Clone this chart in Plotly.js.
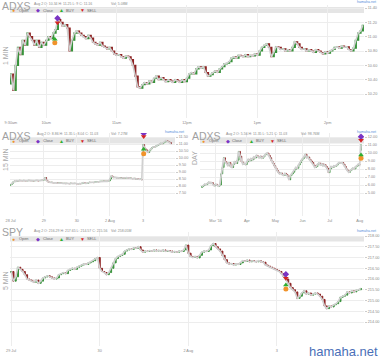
<!DOCTYPE html>
<html><head><meta charset="utf-8">
<script src="https://cdn.plot.ly/plotly-3.0.1.min.js"></script>
<style>html,body{margin:0;padding:0;background:#fff;overflow:hidden}#chart{width:380px;height:358px}</style>
</head><body><div id="chart"></div>
<script>
// ---------- DATA ----------
// 1 MIN panel (ADXS, Aug 2), sampled every 2 minutes from 9:30am
const min1Open0 = 10.34;
const min1Close = [10.48,10.25,10.60,10.85,10.75,10.95,10.88,11.05,11.00,10.95,
 10.88,10.95,10.85,10.92,10.88,10.95,11.00,10.97,11.05,11.10,
 11.24,11.20,11.15,11.17,11.12,10.80,10.95,11.05,11.08,11.05,
 11.02,11.00,10.97,11.02,10.98,10.92,10.90,10.88,10.92,10.87,
 10.85,10.83,10.85,10.80,10.76,10.74,10.75,10.72,10.70,10.73,
 10.72,10.68,10.60,10.45,10.30,10.28,10.33,10.36,10.34,10.38,
 10.36,10.42,10.45,10.40,10.43,10.40,10.37,10.40,10.38,10.36,
 10.40,10.38,10.36,10.40,10.37,10.42,10.48,10.50,10.48,10.55,
 10.58,10.56,10.58,10.50,10.45,10.47,10.50,10.52,10.50,10.55,
 10.58,10.62,10.63,10.65,10.70,10.72,10.70,10.74,10.73,10.72,
 10.75,10.72,10.74,10.73,10.76,10.74,10.80,10.85,10.88,10.90,
 10.85,10.72,10.78,10.86,10.85,10.82,10.83,10.80,10.82,10.80,
 10.85,10.93,10.90,10.85,10.82,10.83,10.80,10.82,10.80,10.78,
 10.82,10.80,10.78,10.76,10.79,10.77,10.80,10.82,10.85,10.86,
 10.84,10.87,10.85,10.86,10.82,10.80,10.84,10.95,11.05,11.08,
 11.16];
const min1StepMinutes = 2;
const min1TickVals = [0,30,90,150,210,270];
const min1TickText = ['9:30am','10am','11am','12pm','1pm','2pm'];
const min1YTicks = [10.20,10.40,10.60,10.80,11.00,11.20,11.40];
const min1Signals = {openX:[37.4], openY:[10.916], buyX:[37.4], buyY:[10.963], closeX:[39.7], closeY:[11.256], sellX:[39.7], sellY:[11.195]};

// 15 MIN panel (ADXS, 5 days)
const min15Open0 = 8.05;
const min15Close = [8.10,8.20,8.30,8.35,8.32,8.38,8.36,8.40,8.38,8.37,8.40,8.38,8.36,8.38,8.40,8.39,8.37,8.38,8.36,8.38,8.40,8.38,8.37,8.39,8.41,8.40,
 8.45,8.60,8.40,8.30,8.28,8.25,8.27,8.24,8.22,8.25,8.23,8.20,8.22,8.19,8.21,8.18,8.20,8.17,8.19,8.18,8.16,8.20,8.18,8.17,8.19,8.18,
 8.16,8.15,8.18,8.16,8.20,8.25,8.22,8.18,8.20,8.24,8.27,8.25,8.26,8.24,8.28,8.30,8.32,8.30,8.33,8.35,8.32,8.36,8.34,8.35,8.33,8.36,
 8.50,8.72,8.65,8.60,8.62,8.58,8.60,8.57,8.59,8.55,8.58,8.56,8.57,8.60,8.58,8.55,8.57,8.54,8.52,8.55,8.50,8.52,8.49,8.47,8.50,8.45,
 10.95,10.70,10.60,10.45,10.40,10.55,10.65,10.75,10.80,10.78,10.85,10.90,10.95,11.00,11.05,11.02,11.10,11.15,11.25,11.20,11.15,11.10,11.03];
const min15GapIdx = [104];
const min15GapOpen = [10.30];
const min15TickVals = [0,26,52,78,104];
const min15TickText = ['28 Jul','29','30','2 Aug','3'];
const min15YTicks = [7.5,8.0,8.5,9.0,9.5,10.0,10.5,11.0,11.5];
const min15Signals = {openX:[104.5], openY:[10.31], buyX:[104.5], buyY:[10.62], closeX:[104.5], closeY:[11.76], sellX:[104.5], sellY:[11.53]};

// DAY panel (ADXS, Feb - Aug 2)
const dayOpen0 = 5.70;
const dayClose = [5.80,5.95,6.10,6.05,6.25,6.35,6.20,6.30,6.05,5.90,6.10,5.95,5.85,6.00,7.40,8.20,9.40,8.90,8.70,8.40,
 8.80,8.30,8.20,8.60,8.95,8.70,9.10,10.20,9.60,8.90,8.60,8.70,8.55,8.90,9.20,9.00,9.30,9.15,9.50,9.40,
 9.70,9.55,9.40,9.60,9.35,9.50,9.75,9.90,10.00,9.70,9.40,9.00,8.70,8.40,8.10,7.80,7.60,7.40,7.50,7.30,
 7.20,7.45,7.30,7.10,6.65,7.20,7.40,7.60,7.90,8.20,8.10,8.50,8.80,9.10,9.30,9.50,9.85,9.40,9.50,9.20,
 9.00,8.80,8.50,8.20,8.30,8.60,8.75,8.50,8.65,8.40,8.55,8.30,8.10,7.55,8.00,8.30,8.20,8.40,8.35,8.50,
 8.70,8.80,8.75,8.80,8.60,8.30,8.00,7.80,7.60,7.80,8.00,8.10,8.00,8.30,8.40,8.60,8.50,11.03];
const dayGapIdx = [117];
const dayGapOpen = [10.34];
const dayTickVals = [10,33,54,74,94,116];
const dayTickText = ["Mar '16",'Apr','May','Jun','Jul','Aug'];
const dayYTicks = [5,6,7,8,9,10,11,12];
const daySignals = {openX:[117], openY:[9.33], buyX:[117], buyY:[9.75], closeX:[117], closeY:[12.04], sellX:[117], sellY:[11.6]};

// 5 MIN panel (SPY, 4 days)
const min5Open0 = 216.30;
const min5Close = [216.35,215.90,216.10,216.55,216.45,216.35,216.20,216.00,215.95,215.90,215.85,215.95,215.80,215.90,216.05,216.10,216.15,216.10,216.05,216.00,
 216.05,216.20,216.25,216.30,216.25,216.40,216.45,216.50,216.45,216.55,216.60,216.65,216.70,216.68,216.75,216.80,216.85,216.95,217.00,
 216.50,216.35,216.30,216.20,216.30,216.50,216.75,216.95,217.05,217.10,217.15,217.30,217.35,217.40,217.38,217.45,217.42,217.50,217.35,217.25,
 217.30,217.28,217.32,217.30,217.35,217.30,217.33,217.30,217.35,217.28,217.32,217.30,217.25,217.28,217.25,217.30,217.28,217.35,217.58,
 217.20,217.05,217.00,217.05,216.98,217.10,217.25,217.30,217.28,217.35,217.55,217.65,217.50,217.40,217.30,217.10,216.90,216.75,216.70,216.72,
 216.65,216.70,216.68,216.75,216.85,216.82,216.88,216.80,216.85,216.82,216.80,216.85,216.80,216.78,216.65,216.60,216.55,216.50,216.45,
 216.40,216.35,216.25,216.10,216.00,215.80,215.60,215.50,215.40,215.10,215.20,215.35,215.45,215.30,215.35,215.25,215.30,215.35,215.30,215.20,
 215.05,214.75,214.62,214.75,214.70,214.80,214.85,214.95,215.15,215.20,215.25,215.40,215.35,215.45,215.40,215.48,215.50,215.56];
const min5TickVals = [0,39,78,117];
const min5TickText = ['29 Jul','30','2 Aug','3'];
const min5YTicks = [214.0,214.5,215.0,215.5,216.0,216.5,217.0,217.5,218.0];
const min5Signals = {openX:[121], openY:[215.53], buyX:[121], buyY:[215.72], closeX:[121], closeY:[216.22], sellX:[121], sellY:[216.03]};

// ---------- BUILD ----------
const W = 380, H = 358;
const GREEN = '#37923a', RED = '#8e2424', HALO = '#d0d0d0';

function buildOpens(first, closes, gapIdx, gapOpen) {
  const o = closes.map((c, i) => i === 0 ? first : closes[i - 1]);
  (gapIdx || []).forEach((g, k) => { o[g] = gapOpen[k]; });
  return o;
}

function panelTraces(xs, opens, closes, sig, xa, ya, lw, halo) {
  const hi = closes.map((c, i) => Math.max(c, opens[i]));
  const lo = closes.map((c, i) => Math.min(c, opens[i]));
  const tr = [];
  tr.push({type:'scatter', mode:'lines', x:xs, y:closes, xaxis:xa, yaxis:ya,
    line:{color:HALO, width:halo}, hoverinfo:'skip', showlegend:false});
  tr.push({type:'candlestick', x:xs, open:opens, high:hi, low:lo, close:closes, xaxis:xa, yaxis:ya,
    increasing:{line:{color:GREEN, width:lw}, fillcolor:GREEN},
    decreasing:{line:{color:RED, width:lw}, fillcolor:RED},
    whiskerwidth:0, hoverinfo:'skip', showlegend:false});
  const mk = (x, y, sym, col) => ({type:'scatter', mode:'markers', x:x, y:y, xaxis:xa, yaxis:ya,
    marker:{symbol:sym, size:5, color:col, line:{width:0}}, hoverinfo:'skip', showlegend:false});
  tr.push(mk(sig.openX, sig.openY, 'circle', '#f0932b'));
  tr.push(mk(sig.buyX, sig.buyY, 'triangle-up', '#2fae2f'));
  tr.push(mk(sig.closeX, sig.closeY, 'diamond', '#7a34c4'));
  tr.push(mk(sig.sellX, sig.sellY, 'triangle-down', '#d42424'));
  return tr;
}

const min1X = min1Close.map((c, i) => i * min1StepMinutes);
const min15X = min15Close.map((c, i) => i);
const dayX = dayClose.map((c, i) => i);
const min5X = min5Close.map((c, i) => i);

let traces = [];
traces = traces.concat(panelTraces(min1X, buildOpens(min1Open0, min1Close), min1Close, min1Signals, 'x', 'y', 1.1, 1.6));
traces = traces.concat(panelTraces(min15X, buildOpens(min15Open0, min15Close, min15GapIdx, min15GapOpen), min15Close, min15Signals, 'x2', 'y2', 0.8, 1.6));
traces = traces.concat(panelTraces(dayX, buildOpens(dayOpen0, dayClose, dayGapIdx, dayGapOpen), dayClose, daySignals, 'x3', 'y3', 0.8, 1.8));
traces = traces.concat(panelTraces(min5X, buildOpens(min5Open0, min5Close), min5Close, min5Signals, 'x4', 'y4', 1.0, 1.6));

const px = v => v / W, py = v => 1 - v / H;
const tickFont = {family:'Liberation Sans, Arial, sans-serif', size:3.8, color:'#8a8a8a'};
function xAxis(dom, anchor, range, tv, tt) {
  return {domain:[px(dom[0]), px(dom[1])], anchor:anchor, range:range, tickvals:tv, ticktext:tt,
    showgrid:true, gridcolor:'#ededed', gridwidth:1, zeroline:false, showline:false, ticks:'',
    tickfont:tickFont, rangeslider:{visible:false}, fixedrange:true, ticklabelstandoff:1};
}
function yAxis(dom, anchor, range, tv) {
  return {domain:[py(dom[1]), py(dom[0])], anchor:anchor, range:range, tickvals:tv, tickformat:'.2f',
    side:'right', showgrid:true, gridcolor:'#ededed', gridwidth:1, zeroline:false, showline:false,
    ticks:'outside', ticklen:2, tickcolor:'#cccccc', tickfont:tickFont, fixedrange:true};
}

const layout = {
  width:W, height:H, margin:{l:0, r:0, t:0, b:0}, paper_bgcolor:'#fff', plot_bgcolor:'#fff', showlegend:false,
  font:{family:'Liberation Sans, Arial, sans-serif'},
  xaxis: xAxis([10,364], 'y', [-0.8, 301], min1TickVals, min1TickText),
  yaxis: yAxis([5,118], 'x', [9.865, 11.442], min1YTicks),
  xaxis2: xAxis([10,175], 'y2', [-0.5, 129.1], min15TickVals, min15TickText),
  yaxis2: yAxis([133,216], 'x2', [5.857, 11.786], min15YTicks),
  xaxis3: xAxis([200,364], 'y3', [-1.5, 119.2], dayTickVals, dayTickText),
  yaxis3: yAxis([133,216], 'x3', [2.125, 12.5], dayYTicks),
  xaxis4: xAxis([10,364], 'y4', [-0.5, 155.4], min5TickVals, min5TickText),
  yaxis4: yAxis([232,346], 'x4', [212.884, 218.186], min5YTicks),
  shapes: [], annotations: []
};

// grey legend bars
[[10,364,7,13],[10,175,138,143.5],[200,364,138,143.5],[10,364,236,241.5]].forEach(b => {
  layout.shapes.push({type:'rect', xref:'paper', yref:'paper', x0:px(b[0]), x1:px(b[1]), y0:py(b[3]), y1:py(b[2]),
    fillcolor:'#e5e5e5', line:{width:0}, layer:'below'});
});

function ann(text, x, y, size, color, extra) {
  layout.annotations.push(Object.assign({text:text, x:px(x), y:py(y), xref:'paper', yref:'paper', showarrow:false,
    xanchor:'left', yanchor:'middle', borderpad:0,
    font:{family:'Liberation Sans, Arial, sans-serif', size:size, color:color}}, extra || {}));
}

// panel headers: [title, titleX, titleY, info, infoX, vol, volX, linkX(right), barY, left, period label, periodX, periodY, linkY, infoY]
const headers = [
  ['ADXS', 1, 5.5, 'Aug 2 O: 10.34 H: 11.25 L: 9 C: 11.16', 33, 'Vol: 5.08M', 110, 377, 10.2, 10, '1 MIN', 5, 56, 2.5, 4],
  ['ADXS', 1, 135.5, 'Aug 2 O: 8.86 H: 11.35 L: 8.04 C: 11.03', 36, 'Vol: 7.27M', 110, 185, 140.9, 10, '15 MIN', 5, 160, 132, 134],
  ['ADXS', 191, 135.5, 'Aug 2 O: 5.56 H: 11.35 L: 5.21 C: 11.03', 225, 'Vol: 98.76M', 300, 377, 140.9, 200, 'DAY', 195, 158, 132, 134],
  ['SPY', 1, 231.5, 'Aug 2 O: 216.29 H: 217.65 L: 214.57 C: 215.56', 33, 'Vol: 258.05M', 110, 377, 238.9, 10, '5 MIN', 5, 281, 231, 231]
];
headers.forEach(h => {
  ann(h[0], h[1], h[2], 10.5, '#a0a0a0');
  ann(h[3], h[4], h[14], 3.5, '#8a8a8a');
  ann(h[5], h[6], h[14], 3.5, '#8a8a8a');
  ann('hamaha.net', h[7], h[13], 3.6, '#4f8fd8', {xanchor:'right'});
  ann(h[10], h[11], h[12], 7, '#a8a8a8', {textangle:-90, xanchor:'center'});
  const L = h[9], Y = h[8];
  ann('●', L + 1, Y, 5, '#f0932b'); ann('Open', L + 8, Y, 3.9, '#666');
  ann('◆', L + 24.5, Y, 5, '#7a34c4'); ann('Close', L + 31.5, Y, 3.9, '#666');
  ann('▲', L + 48, Y, 5, '#2fae2f'); ann('BUY', L + 55, Y, 3.9, '#666');
  ann('▼', L + 69, Y, 5, '#d42424'); ann('SELL', L + 76, Y, 3.9, '#666');
});
ann('hamaha.net', 379, 351, 13, '#4a6fb8', {xanchor:'right'});

Plotly.newPlot('chart', traces, layout, {staticPlot:true, displayModeBar:false});
</script>
</body></html>
